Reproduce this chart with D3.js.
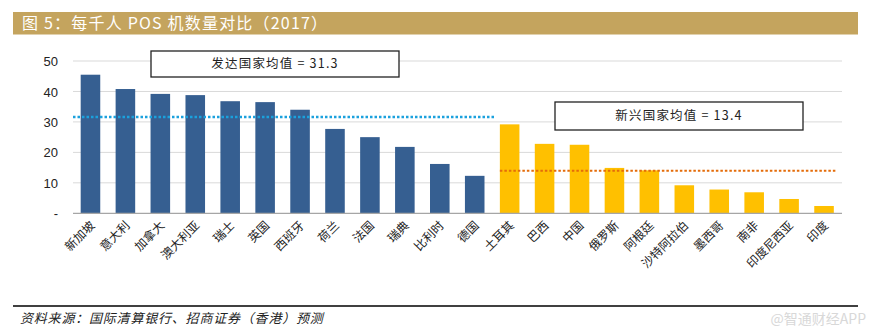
<!DOCTYPE html>
<html><head><meta charset="utf-8">
<script src="https://cdn.jsdelivr.net/npm/d3@7"></script>
<style>body{margin:0;background:#fff;}svg{display:block;}</style>
</head><body>
<svg id="c" width="870" height="332"></svg>
<script>
const devCountries = ["新加坡","意大利","加拿大","澳大利亚","瑞士","英国","西班牙","荷兰","法国","瑞典","比利时","德国"];
const devValues = [45.5,40.8,39.2,38.8,36.8,36.5,34.0,27.7,25.0,21.8,16.2,12.3];
const emgCountries = ["土耳其","巴西","中国","俄罗斯","阿根廷","沙特阿拉伯","墨西哥","南非","印度尼西亚","印度"];
const emgValues = [29.2,22.8,22.5,14.9,14.1,9.2,7.8,6.9,4.7,2.4];
const yTicks = [0,10,20,30,40,50];
const yTickLabels = ["-","10","20","30","40","50"];
const avgLabels = ["发达国家均值 = 31.3","新兴国家均值 = 13.4"];
const avgLineValues = [31.6,14.0];

const svg = d3.select("#c");
const data = devCountries.map((c,i)=>({c,v:devValues[i],g:0}))
  .concat(emgCountries.map((c,i)=>({c,v:emgValues[i],g:1})));

// title bar
svg.append("rect").attr("x",13).attr("y",12).attr("width",845).attr("height",22.5).attr("fill","#C4A45E");
svg.append("text").attr("x",22).attr("y",29).attr("fill","#fff")
  .attr("font-family","'Noto Sans CJK SC',sans-serif").attr("font-size",16).attr("letter-spacing",1.2)
  .text("图 5：每千人 POS 机数量对比（2017）");

const x = d3.scaleBand().domain(data.map(d=>d.c)).range([73,841.5]).paddingInner(0.44).paddingOuter(0.22);
const y = d3.scaleLinear().domain([0,50]).range([213.3,61]);

// grid
svg.append("g").selectAll("line").data(yTicks.filter(t=>t>0)).join("line")
  .attr("x1",73).attr("x2",842).attr("y1",d=>y(d)).attr("y2",d=>y(d))
  .attr("stroke","#D9D9D9").attr("stroke-width",1);

// y axis labels
const yAxis = d3.axisLeft(y).tickValues(yTicks).tickFormat((d,i)=>yTickLabels[i]).tickSize(0).tickPadding(0);
const ya = svg.append("g").attr("transform","translate(58,0)").call(yAxis);
ya.select(".domain").remove();
ya.selectAll("text").attr("font-family","Arial,'Liberation Sans',sans-serif").attr("font-size",13).attr("fill","#222").attr("dy","0.35em");

// bars
svg.append("g").selectAll("rect").data(data).join("rect")
  .attr("x",d=>x(d.c)).attr("y",d=>y(d.v)).attr("width",x.bandwidth())
  .attr("height",d=>y(0)-y(d.v)).attr("fill",d=>d.g?"#FFC000":"#365F91");

// baseline
svg.append("line").attr("x1",73).attr("x2",842).attr("y1",y(0)).attr("y2",y(0)).attr("stroke","#A6A6A6").attr("stroke-width",1.2);

// x labels
const xa = svg.append("g").attr("transform",`translate(0,${y(0)})`)
  .call(d3.axisBottom(x).tickSize(0).tickPadding(0));
xa.select(".domain").remove();
xa.selectAll("text").attr("font-family","'Noto Sans CJK SC',sans-serif").attr("font-size",12).attr("fill","#222")
  .attr("text-anchor","end").attr("dy",0)
  .attr("transform","translate(5,13) rotate(-45)");

// average lines
const lastDev = devCountries[devCountries.length-1];
const firstEmg = emgCountries[0], lastEmg = emgCountries[emgCountries.length-1];
svg.append("line").attr("x1",73).attr("x2",x(firstEmg)-(x.step()-x.bandwidth())/2+2)
  .attr("y1",y(avgLineValues[0])).attr("y2",y(avgLineValues[0]))
  .attr("stroke","#1BA1DD").attr("stroke-width",2.5).attr("stroke-dasharray","2.5,2");
svg.append("line").attr("x1",x(firstEmg)).attr("x2",x(lastEmg)+x.bandwidth()+3)
  .attr("y1",y(avgLineValues[1])).attr("y2",y(avgLineValues[1]))
  .attr("stroke","#E46C0A").attr("stroke-width",2).attr("stroke-dasharray","2.5,2");

// annotation boxes
const boxes = [{x:151,y:51,w:248,h:26,t:avgLabels[0]},{x:555,y:102,w:248,h:28,t:avgLabels[1]}];
boxes.forEach(b=>{
  svg.append("rect").attr("x",b.x).attr("y",b.y).attr("width",b.w).attr("height",b.h)
    .attr("fill","#fff").attr("stroke","#222").attr("stroke-width",1.3);
  svg.append("text").attr("x",b.x+b.w/2).attr("y",b.y+b.h/2).attr("dy","0.35em").attr("text-anchor","middle")
    .attr("font-family","'Noto Sans CJK SC',sans-serif").attr("font-size",12.5).attr("letter-spacing",1.2).attr("fill","#222").text(b.t);
});

// footer
svg.append("line").attr("x1",13).attr("x2",858).attr("y1",306).attr("y2",306).attr("stroke","#000").attr("stroke-width",1.3);
svg.append("text").attr("x",20).attr("y",323).attr("font-family","'Noto Sans CJK SC',sans-serif").attr("font-size",13)
  .attr("letter-spacing",0.8).attr("font-style","italic").attr("fill","#222").text("资料来源：国际清算银行、招商证券（香港）预测");
svg.append("text").attr("x",866).attr("y",324).attr("text-anchor","end").attr("font-family","'Noto Sans CJK SC',sans-serif").attr("font-size",14)
  .attr("fill","#D8D8D8").text("@智通财经APP");
</script>
</body></html>
